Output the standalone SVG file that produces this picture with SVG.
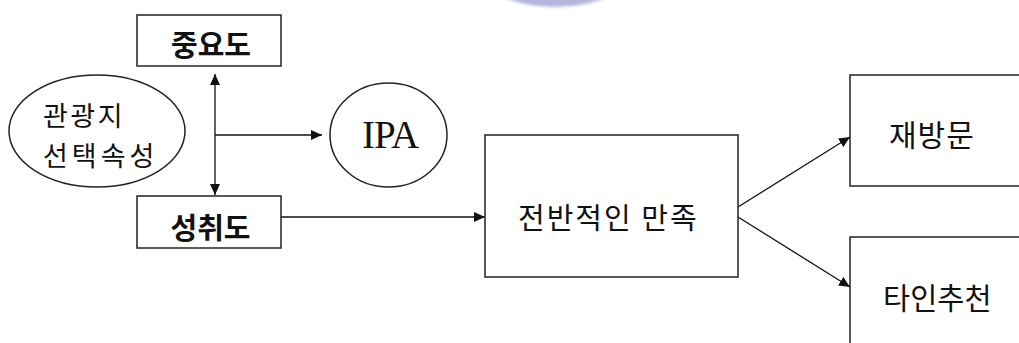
<svg xmlns="http://www.w3.org/2000/svg" width="1019" height="343" viewBox="0 0 1019 343">
<defs>
<style>
.box{fill:none;stroke:#222;stroke-width:1.5}
.ln{fill:none;stroke:#111;stroke-width:1.3}
.kr{font-family:"Noto Sans CJK KR",sans-serif;font-size:29px;fill:#111}
.b{font-weight:bold}
</style>
<marker id="ah" viewBox="0 0 11 10" refX="11" refY="5" markerWidth="11" markerHeight="10" markerUnits="userSpaceOnUse" orient="auto-start-reverse"><path d="M0,0 L11,5 L0,10 z" fill="#111"/></marker>
<filter id="blur" x="-20%" y="-20%" width="140%" height="140%"><feGaussianBlur stdDeviation="1.5"/></filter>
</defs>
<rect width="1019" height="343" fill="#ffffff"/>
<g id="logo" filter="url(#blur)">
<ellipse cx="555" cy="-30" rx="76" ry="37" fill="#b6b6dc"/>
</g>
<g id="connectors">
<line class="ln" x1="215" y1="74" x2="215" y2="195" marker-start="url(#ah)" marker-end="url(#ah)"/>
<line class="ln" x1="215" y1="135" x2="322" y2="135" marker-end="url(#ah)"/>
<line class="ln" x1="281" y1="217" x2="485" y2="217" marker-end="url(#ah)"/>
<line class="ln" x1="738" y1="207" x2="850" y2="137" marker-end="url(#ah)"/>
<line class="ln" x1="738" y1="217" x2="850" y2="287" marker-end="url(#ah)"/>
</g>
<g id="importance">
<rect class="box" x="137" y="15" width="144" height="51"/>
<text class="kr b" x="211" y="56" text-anchor="middle">중요도</text>
</g>
<g id="attributes">
<ellipse class="box" cx="97" cy="131" rx="88" ry="56"/>
<text class="kr" x="43" y="126" style="font-size:27px;letter-spacing:2.5px">관광지</text>
<text class="kr" x="43" y="166" style="font-size:27px;letter-spacing:4px">선택속성</text>
</g>
<g id="ipa">
<ellipse class="box" cx="388.5" cy="135" rx="58.5" ry="52"/>
<text x="362" y="148" style="font-family:'Liberation Serif',serif;font-size:39px;letter-spacing:-1px;fill:#111">IPA</text>
</g>
<g id="performance">
<rect class="box" x="137" y="196" width="144" height="52"/>
<text class="kr b" x="210.5" y="239" text-anchor="middle">성취도</text>
</g>
<g id="satisfaction">
<rect class="box" x="485" y="135" width="253" height="142"/>
<text class="kr" x="518" y="229" style="letter-spacing:2px">전반적인 만족</text>
</g>
<g id="revisit">
<rect class="box" x="850" y="75" width="180" height="111"/>
<text class="kr" x="889" y="146" style="font-size:30px;letter-spacing:1px">재방문</text>
</g>
<g id="recommend">
<rect class="box" x="850" y="237" width="180" height="120"/>
<text class="kr" x="883" y="309" style="font-size:29.5px">타인추천</text>
</g>
</svg>
